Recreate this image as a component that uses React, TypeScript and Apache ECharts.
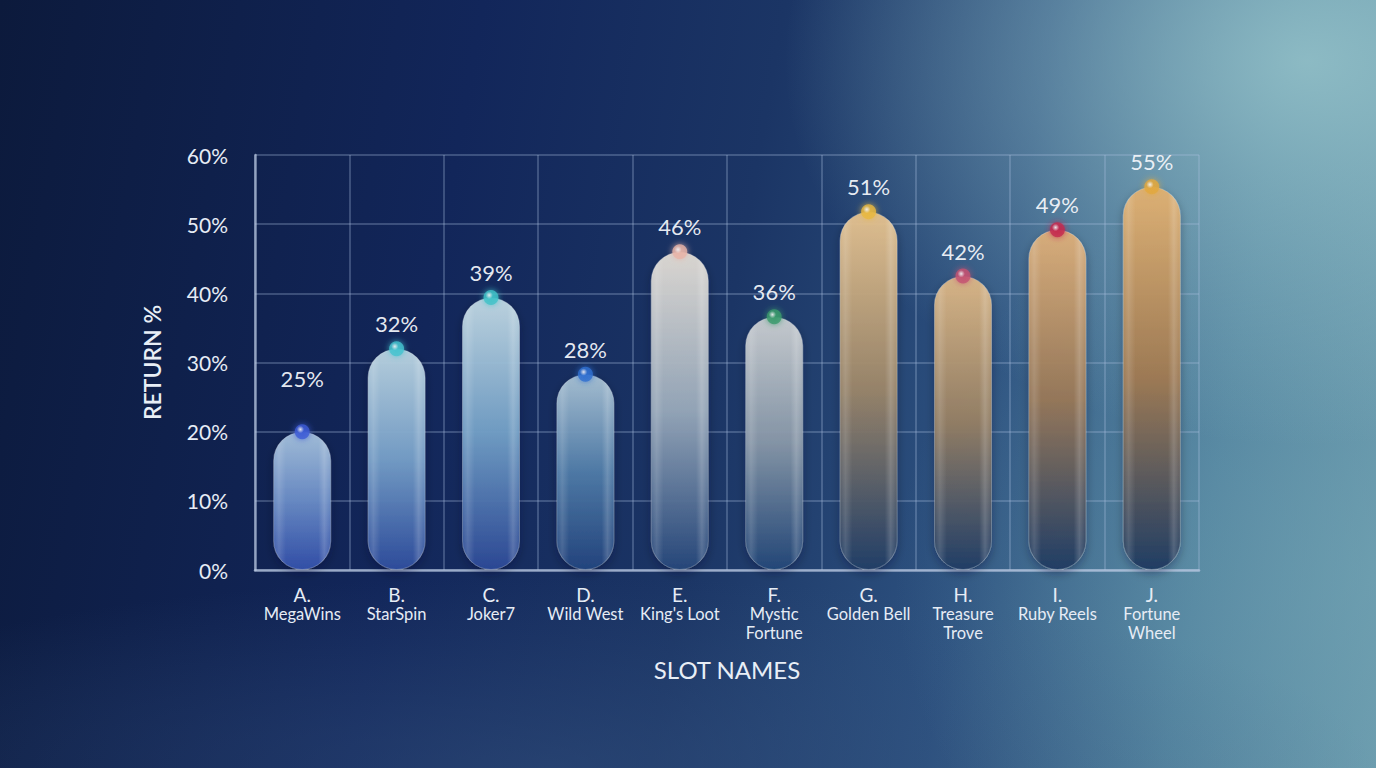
import React, { useEffect, useRef } from "react";
import * as echarts from "echarts";

const letters = ["A.", "B.", "C.", "D.", "E.", "F.", "G.", "H.", "I.", "J."];
const slotNames = [
  "MegaWins",
  "StarSpin",
  "Joker7",
  "Wild West",
  "King's Loot",
  "Mystic\nFortune",
  "Golden Bell",
  "Treasure\nTrove",
  "Ruby Reels",
  "Fortune\nWheel",
];
// drawn bar heights
const barValues = [20, 32, 39.4, 28.3, 46, 36.6, 51.8, 42.5, 49.2, 55.4];
// printed return labels
const labelValues = [25, 32, 39, 28, 46, 36, 51, 42, 49, 55];
const yTicks = [0, 10, 20, 30, 40, 50, 60];

const barTop = ["#a6c2dd", "#bcd5e2", "#c2d9e4", "#aac3d5", "#e2ddd6", "#cbcfd2", "#e6c390", "#ddb887", "#deb07b", "#e2b273"];
const barMid = ["#6a8cc6", "#769fc8", "#729fc6", "#507ca8", "#97a8ba", "#8797a8", "#9a8569", "#957f64", "#987858", "#a07a52"];
const barBottom = ["#3350aa", "#2e4d9d", "#2c4996", "#23457e", "#26477a", "#234778", "#213e67", "#203d66", "#1f3c64", "#1e3b62"];
const dotColors = ["#3d5cd6", "#45c3cf", "#40c2c8", "#2f6fd0", "#e8b4a8", "#3a9a6c", "#e8b840", "#c45272", "#c4284e", "#e2a83e"];

export default function App() {
  const ref = useRef<HTMLDivElement>(null);
  useEffect(() => {
    if (!ref.current) return;
    const chart = echarts.init(ref.current, null, { renderer: "svg" });
    const font = "Lato, 'Open Sans', sans-serif";
    const cats = letters.map((l, i) => "{l|" + l + "}\n" + slotNames[i]);
    chart.setOption({
      animation: false,
      backgroundColor: "transparent",
      textStyle: { fontFamily: font },
      grid: { left: 255, right: 177, top: 155, bottom: 198 },
      xAxis: {
        type: "category",
        data: cats,
        name: "SLOT NAMES",
        nameLocation: "middle",
        nameGap: 87,
        nameTextStyle: { color: "#e8eef6", fontSize: 24, fontFamily: font },
        axisLine: { show: true, lineStyle: { color: "rgba(185,200,225,0.75)", width: 2.5 } },
        axisTick: { show: false },
        axisLabel: {
          color: "#e6ecf5",
          fontSize: 16.5,
          lineHeight: 19,
          margin: 15,
          fontFamily: font,
          interval: 0,
          rich: {
            l: { fontSize: 19, lineHeight: 19, color: "#e6ecf5", fontFamily: font },
          },
        },
        splitLine: { show: true, lineStyle: { color: "rgba(170,190,220,0.38)", width: 1.5 } },
      },
      yAxis: {
        type: "value",
        min: 0,
        max: 60,
        interval: 10,
        name: "RETURN %",
        nameLocation: "middle",
        nameRotate: 90,
        nameGap: 92,
        nameTextStyle: { color: "#e8eef6", fontSize: 23, fontWeight: 600, fontFamily: font },
        axisLine: { show: true, lineStyle: { color: "rgba(185,200,225,0.7)", width: 2.5 } },
        axisTick: { show: false },
        axisLabel: {
          color: "#e6ecf5",
          fontSize: 21,
          margin: 27,
          fontFamily: font,
          formatter: (v: number) => (yTicks.includes(v) ? v + "%" : ""),
        },
        splitLine: { show: true, lineStyle: { color: "rgba(170,190,220,0.38)", width: 1.5 } },
      },
      series: [
        {
          type: "bar",
          barWidth: 58,
          z: 2,
          data: barValues.map((v, i) => ({
            value: v,
            itemStyle: {
              borderRadius: 29,
              opacity: 0.95,
              borderColor: "rgba(255,255,255,0.25)",
              borderWidth: 1,
              shadowBlur: 10,
              shadowColor: "rgba(5,15,40,0.35)",
              shadowOffsetY: 4,
              color: new echarts.graphic.LinearGradient(0, 0, 0, 1, [
                { offset: 0, color: barTop[i] },
                { offset: 0.5, color: barMid[i] },
                { offset: 1, color: barBottom[i] },
              ]),
            },
            label: {
              show: true,
              position: "top",
              distance: i === 0 ? 42 : 14,
              formatter: labelValues[i] + "%",
              color: "#f2f5fa",
              fontSize: 22,
              fontFamily: font,
            },
          })),
        },
        {
          type: "bar",
          barWidth: 58,
          barGap: "-100%",
          z: 3,
          silent: true,
          data: barValues.map((v) => ({
            value: v,
            itemStyle: {
              borderRadius: 29,
              color: new echarts.graphic.LinearGradient(1, 0, 0, 0, [
                { offset: 0, color: "rgba(255,255,255,0)" },
                { offset: 0.12, color: "rgba(255,255,255,0.18)" },
                { offset: 0.22, color: "rgba(255,255,255,0)" },
                { offset: 0.78, color: "rgba(255,255,255,0)" },
                { offset: 0.9, color: "rgba(255,255,255,0.14)" },
                { offset: 1, color: "rgba(255,255,255,0)" },
              ]),
            },
          })),
        },
        {
          type: "scatter",
          symbolSize: 15,
          z: 5,
          data: barValues.map((v, i) => ({
            value: v,
            itemStyle: {
              color: new echarts.graphic.RadialGradient(0.38, 0.35, 0.7, [
                { offset: 0, color: "#ffffff" },
                { offset: 0.35, color: dotColors[i] },
                { offset: 1, color: dotColors[i] },
              ]),
              shadowBlur: 6,
              shadowColor: dotColors[i],
            },
          })),
        },
      ],
    });
    return () => chart.dispose();
  }, []);

  return (
    <div
      style={{
        position: "absolute",
        left: 0,
        top: 0,
        width: 1376,
        height: 768,
        overflow: "hidden",
        background:
          "radial-gradient(ellipse 38% 50% at 95% 8%, rgba(155,200,205,0.8), rgba(155,200,205,0) 100%)," +
          "radial-gradient(ellipse 35% 55% at 100% 75%, rgba(115,165,180,0.5), rgba(115,165,180,0) 100%)," +
          "radial-gradient(ellipse 60% 25% at 40% 100%, rgba(50,80,125,0.55), rgba(50,80,125,0) 100%)," +
          "linear-gradient(100deg, #0c1a3c 0%, #12265a 32%, #1b3565 52%, #2d5280 70%, #4f809d 86%, #6a9aad 100%)",
      }}
    >
      <div ref={ref} style={{ width: 1376, height: 768 }} />
    </div>
  );
}
